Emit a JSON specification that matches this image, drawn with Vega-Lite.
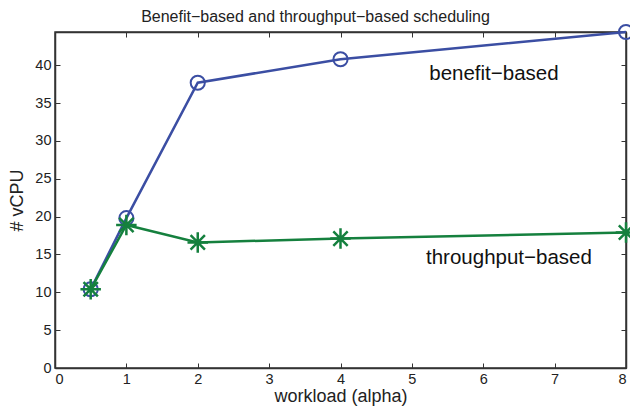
{
  "$schema": "https://vega.github.io/schema/vega-lite/v6.json",
  "width": 571,
  "height": 336,
  "autosize": {"type": "none"},
  "padding": {"left": 55, "top": 32, "right": 4, "bottom": 42},
  "background": "white",
  "config": {
    "font": "Liberation Sans",
    "view": {"stroke": "#333333", "strokeWidth": 1.5},
    "axis": {"grid": false, "domainColor": "#333333", "domainWidth": 1.5, "tickColor": "#333333", "tickWidth": 1, "labelColor": "#222222", "titleColor": "#222222", "labelFontSize": 14.5, "titleFontSize": 18, "titleFontWeight": "normal", "labelFont": "Liberation Sans", "titleFont": "Liberation Sans"}
  },
  "title": {"text": "Benefit−based and throughput−based scheduling", "fontSize": 16, "fontWeight": "normal", "font": "Liberation Sans", "color": "#222222", "offset": 6, "dy": 10, "dx": -25},
  "datasets": {
    "series": [
      {"alpha": 0.5, "vcpu": 10.4, "policy": "benefit-based"},
      {"alpha": 1, "vcpu": 19.8, "policy": "benefit-based"},
      {"alpha": 2, "vcpu": 37.7, "policy": "benefit-based"},
      {"alpha": 4, "vcpu": 40.8, "policy": "benefit-based"},
      {"alpha": 8, "vcpu": 44.4, "policy": "benefit-based"},
      {"alpha": 0.5, "vcpu": 10.4, "policy": "throughput-based"},
      {"alpha": 1, "vcpu": 18.9, "policy": "throughput-based"},
      {"alpha": 2, "vcpu": 16.6, "policy": "throughput-based"},
      {"alpha": 4, "vcpu": 17.1, "policy": "throughput-based"},
      {"alpha": 8, "vcpu": 17.9, "policy": "throughput-based"}
    ],
    "labels": [
      {"alpha": 6.15, "vcpu": 38.8, "label": "benefit−based"},
      {"alpha": 6.36, "vcpu": 14.6, "label": "throughput−based"}
    ]
  },
  "resolve": {"axis": {"x": "independent", "y": "independent"}},
  "layer": [
    {
      "data": {"name": "series"},
      "transform": [{"filter": "datum.policy === 'benefit-based'"}],
      "mark": {"type": "line", "color": "#3b4ea3", "strokeWidth": 2.5, "point": {"shape": "circle", "filled": false, "size": 200, "strokeWidth": 2, "color": "#3b4ea3"}},
      "encoding": {
        "x": {"field": "alpha", "type": "quantitative", "scale": {"domain": [0, 8], "nice": false}, "axis": {"title": "workload (alpha)", "values": [0,1,2,3,4,5,6,7,8], "tickSize": -5, "labelPadding": 9, "titlePadding": 2}},
        "y": {"field": "vcpu", "type": "quantitative", "scale": {"domain": [0, 44.4], "nice": false}, "axis": {"title": "# vCPU", "values": [0,5,10,15,20,25,30,35,40], "tickSize": -5, "labelPadding": 9, "titlePadding": 8}}
      }
    },
    {
      "data": {"name": "series"},
      "transform": [{"filter": "datum.policy === 'throughput-based'"}],
      "mark": {"type": "line", "color": "#15803e", "strokeWidth": 2.5, "point": {"shape": "M-1,0L1,0M0,-1L0,1M-0.7,-0.7L0.7,0.7M-0.7,0.7L0.7,-0.7", "filled": false, "size": 420, "strokeWidth": 2.5, "color": "#15803e"}},
      "encoding": {
        "x": {"field": "alpha", "type": "quantitative", "axis": {"orient": "top", "title": null, "labels": false, "values": [0,1,2,3,4,5,6,7,8], "tickSize": -5, "minExtent": 0, "maxExtent": 0}},
        "y": {"field": "vcpu", "type": "quantitative", "axis": {"orient": "right", "title": null, "labels": false, "values": [0,5,10,15,20,25,30,35,40], "tickSize": -5, "minExtent": 0, "maxExtent": 0}}
      }
    },
    {
      "data": {"name": "labels"},
      "mark": {"type": "text", "fontSize": 20.5, "font": "Liberation Sans", "color": "#111111", "align": "center", "baseline": "middle"},
      "encoding": {
        "x": {"field": "alpha", "type": "quantitative", "axis": null},
        "y": {"field": "vcpu", "type": "quantitative", "axis": null},
        "text": {"field": "label"}
      }
    }
  ]
}
